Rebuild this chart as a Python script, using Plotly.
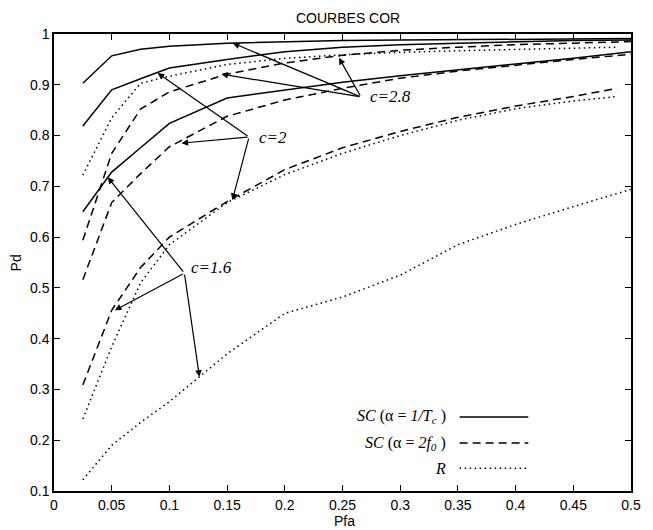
import plotly.graph_objects as go

# ---------------- data ----------------
PFA = [0.025, 0.05, 0.075, 0.1, 0.15, 0.2, 0.25, 0.3, 0.35, 0.4, 0.45, 0.5]
PFA_END = [0.025, 0.05, 0.075, 0.1, 0.15, 0.2, 0.25, 0.3, 0.35, 0.4, 0.45, 0.488]

# c = 2.8
sc_tc_c28 = [0.903, 0.957, 0.970, 0.976, 0.982, 0.985, 0.987, 0.988, 0.989, 0.990, 0.990, 0.991]
sc_2f0_c28 = [0.594, 0.765, 0.852, 0.886, 0.921, 0.943, 0.958, 0.968, 0.974, 0.979, 0.982, 0.985]
r_c28 = [0.722, 0.835, 0.903, 0.917, 0.940, 0.952, 0.959, 0.964, 0.967, 0.970, 0.972, 0.974]

# c = 2
sc_tc_c2 = [0.819, 0.890, 0.912, 0.933, 0.950, 0.965, 0.974, 0.979, 0.982, 0.985, 0.987, 0.988]
sc_2f0_c2 = [0.516, 0.668, 0.725, 0.778, 0.838, 0.870, 0.893, 0.913, 0.927, 0.939, 0.950, 0.960]
r_c2 = [0.242, 0.384, 0.510, 0.585, 0.668, 0.723, 0.765, 0.800, 0.830, 0.853, 0.868, 0.877]

# c = 1.6
sc_tc_c16 = [0.650, 0.728, 0.776, 0.824, 0.874, 0.890, 0.905, 0.918, 0.930, 0.941, 0.952, 0.965]
sc_2f0_c16 = [0.309, 0.456, 0.540, 0.600, 0.670, 0.733, 0.776, 0.808, 0.836, 0.858, 0.877, 0.893]
r_c16 = [0.122, 0.190, 0.235, 0.276, 0.370, 0.450, 0.482, 0.525, 0.585, 0.625, 0.660, 0.694]

# arrow annotations: label, label position, tail, tips
C_LABELS = ["c=2.8", "c=2", "c=1.6"]
LABEL_POS = [(0.272, 0.876), (0.176, 0.797), (0.117, 0.541)]
ARROW_TAIL = [(0.266, 0.876), (0.169, 0.797), (0.113, 0.529)]
ARROW_TIPS = [
    [(0.155, 0.982), (0.145, 0.921), (0.247, 0.953)],
    [(0.0898, 0.923), (0.1105, 0.785), (0.1546, 0.673)],
    [(0.0466, 0.718), (0.0527, 0.456), (0.126, 0.325)],
]

LEGEND_TEXT = [
    "<i>SC</i> (α = <i>1/T<sub>c</sub></i> )",
    "<i>SC</i> (α = <i>2f<sub>0</sub></i> )",
    "<i>R</i>",
]

# ---------------- figure ----------------
SOLID = dict(color="black", width=1.5, dash="solid")
DASHED = dict(color="black", width=1.5, dash="8px,5px")
DOTTED = dict(color="black", width=1.5, dash="1.5px,3.5px")

fig = go.Figure()
series = [
    (PFA, sc_tc_c28, SOLID, "SC (α=1/Tc) c=2.8"),
    (PFA, sc_2f0_c28, DASHED, "SC (α=2f0) c=2.8"),
    (PFA_END, r_c28, DOTTED, "R c=2.8"),
    (PFA, sc_tc_c2, SOLID, "SC (α=1/Tc) c=2"),
    (PFA, sc_2f0_c2, DASHED, "SC (α=2f0) c=2"),
    (PFA_END, r_c2, DOTTED, "R c=2"),
    (PFA, sc_tc_c16, SOLID, "SC (α=1/Tc) c=1.6"),
    (PFA_END, sc_2f0_c16, DASHED, "SC (α=2f0) c=1.6"),
    (PFA, r_c16, DOTTED, "R c=1.6"),
]
for xs, ys, ln, name in series:
    fig.add_trace(go.Scatter(x=xs, y=ys, mode="lines", line=ln, name=name,
                             showlegend=False, hoverinfo="skip"))

annotations = []
for lab, (lx, ly), (tx, ty), tips in zip(C_LABELS, LABEL_POS, ARROW_TAIL, ARROW_TIPS):
    for (px, py) in tips:
        annotations.append(dict(
            x=px, y=py, ax=tx, ay=ty, xref="x", yref="y", axref="x", ayref="y",
            text="", showarrow=True, arrowhead=2, arrowsize=1.1, arrowwidth=1.2,
            arrowcolor="black", standoff=0, startstandoff=0))
    annotations.append(dict(
        x=lx, y=ly, xref="x", yref="y", text="<i>" + lab + "</i>", showarrow=False,
        xanchor="left", yanchor="middle",
        font=dict(family="Liberation Serif", size=17, color="black")))

# custom legend (text on the left, line sample on the right)
LEG_Y = [0.162, 0.105, 0.050]
LEG_STYLES = [SOLID, DASHED, DOTTED]
shapes = []
for txt, yy, st in zip(LEGEND_TEXT, LEG_Y, LEG_STYLES):
    annotations.append(dict(
        x=0.682, y=yy, xref="paper", yref="paper", text=txt, showarrow=False,
        xanchor="right", yanchor="middle",
        font=dict(family="Liberation Serif", size=16, color="black")))
    shapes.append(dict(type="line", xref="paper", yref="paper",
                       x0=0.703, x1=0.822, y0=yy, y1=yy,
                       line=dict(color="black", width=st["width"], dash=st["dash"])))

annotations += [
    dict(x=0.509, y=1.035, xref="paper", yref="paper", text="COURBES COR",
         showarrow=False, xanchor="center", yanchor="middle",
         font=dict(family="Liberation Sans", size=14, color="black")),
    dict(x=0.503, y=-0.066, xref="paper", yref="paper", text="Pfa",
         showarrow=False, xanchor="center", yanchor="middle",
         font=dict(family="Liberation Sans", size=14, color="black")),
    dict(x=-0.066, y=0.5, xref="paper", yref="paper", text="Pd", textangle=-90,
         showarrow=False, xanchor="center", yanchor="middle",
         font=dict(family="Liberation Sans", size=14, color="black")),
]

axis_common = dict(showgrid=False, zeroline=False, showline=True, linecolor="black",
                   linewidth=1.5, mirror="ticks", ticks="inside", ticklen=6,
                   tickcolor="black", tickwidth=1.2,
                   tickfont=dict(family="Liberation Sans", size=14, color="black"))

fig.update_layout(
    width=645, height=522,
    margin=dict(l=46, r=20, t=26, b=39),
    plot_bgcolor="white", paper_bgcolor="white",
    xaxis=dict(range=[0, 0.5], dtick=0.05, tick0=0, **axis_common),
    yaxis=dict(range=[0.1, 1.0], dtick=0.1, tick0=0.1, **axis_common),
    annotations=annotations,
    shapes=shapes,
    showlegend=False,
)

fig.write_html("out.html")
